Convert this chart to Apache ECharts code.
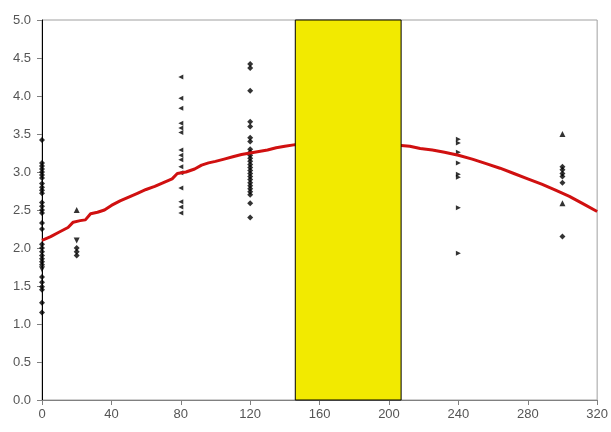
<!DOCTYPE html>
<html><head><meta charset="utf-8">
<script src="https://cdn.jsdelivr.net/npm/echarts@6/dist/echarts.min.js"></script>
<style>html,body{margin:0;padding:0;background:#fff}#c{width:611px;height:432px}</style>
</head><body><div id="c"></div>
<script>
// Observed values (x = dose/position, y = measurement)
const xTicks = [0, 40, 80, 120, 160, 200, 240, 280, 320];
const yTicks = [0, 0.5, 1, 1.5, 2, 2.5, 3, 3.5, 4, 4.5, 5];

const diamondX0 = [3.42, 3.12, 3.08, 3.04, 3.0, 2.96, 2.92, 2.85, 2.8, 2.76, 2.72, 2.6, 2.55, 2.5, 2.46, 2.33, 2.25, 2.05, 2.0, 1.95, 1.9, 1.86, 1.82, 1.78, 1.62, 1.55, 1.49, 1.45, 1.28, 1.15];
const downTriX0 = [1.72];
const upTriX20 = [2.5];
const downTriX20 = [2.1];
const diamondX20 = [2.0, 1.95, 1.9];
const leftTriX80 = [4.25, 3.97, 3.84, 3.64, 3.58, 3.52, 3.29, 3.22, 3.16, 3.07, 2.99, 2.79, 2.61, 2.54, 2.46];
const diamondX120 = [4.42, 4.37, 4.07, 3.66, 3.6, 3.45, 3.4, 3.3, 3.26, 3.22, 3.18, 3.14, 3.1, 3.06, 3.02, 2.98, 2.94, 2.9, 2.86, 2.82, 2.78, 2.74, 2.7, 2.59, 2.4];
const rightTriX240 = [3.43, 3.38, 3.26, 3.12, 2.97, 2.93, 2.53, 1.93];
const upTriX300 = [3.5, 2.59];
const diamondX300 = [3.07, 3.03, 2.98, 2.94, 2.86, 2.15];

const curveX = [0, 5, 10, 15, 18, 22, 25, 28, 32, 36, 40, 45, 50, 55, 60, 65, 70, 75, 78, 83, 88, 92, 96, 100, 105, 110, 115, 120, 125, 130, 135, 140, 146, 175, 207, 212, 218, 225, 232, 240, 248, 256, 264, 272, 280, 288, 296, 304, 312, 320];
const curveY = [2.10, 2.15, 2.21, 2.27, 2.34, 2.36, 2.37, 2.45, 2.47, 2.50, 2.56, 2.62, 2.67, 2.72, 2.77, 2.81, 2.86, 2.91, 2.98, 3.00, 3.04, 3.09, 3.12, 3.14, 3.17, 3.20, 3.23, 3.25, 3.27, 3.29, 3.32, 3.34, 3.36, 3.38, 3.35, 3.34, 3.31, 3.29, 3.26, 3.22, 3.17, 3.11, 3.05, 2.98, 2.91, 2.84, 2.76, 2.68, 2.58, 2.48];

const bandRange = [146, 207];
const bandY = [0, 5];

function pts(x, ys) { return ys.map(v => [x, v]); }

const chart = echarts.init(document.getElementById('c'), null, {renderer: 'canvas'});
const dot = (name, data, symbol, size, rot) => ({
  name, type: 'scatter', data, symbol, symbolSize: size, symbolRotate: rot || 0,
  itemStyle: {color: '#000'}, z: 3, silent: true
});
chart.setOption({
  animation: false,
  grid: {left: 42, right: 10, top: 20, bottom: 32, show: true, borderColor: '#a0a0a0', borderWidth: 1},
  xAxis: {
    type: 'value', min: 0, max: 320, interval: 40,
    axisLine: {show: true, onZero: false, lineStyle: {color: '#808080', width: 1}},
    axisTick: {show: true, length: 5, lineStyle: {color: '#808080'}},
    axisLabel: {color: '#555', fontFamily: 'Liberation Sans, Arial', fontSize: 13, margin: 8},
    splitLine: {show: false}
  },
  yAxis: {
    type: 'value', min: 0, max: 5, interval: 0.5,
    axisLine: {show: true, lineStyle: {color: '#000', width: 1}},
    axisTick: {show: true, length: 5, lineStyle: {color: '#808080'}},
    axisLabel: {color: '#555', fontFamily: 'Liberation Sans, Arial', fontSize: 13, margin: 11,
      formatter: v => v.toFixed(1)},
    splitLine: {show: false}
  },
  series: [
    {type: 'line', data: curveX.map((x, i) => [x, curveY[i]]), showSymbol: false, symbol: 'none',
      lineStyle: {color: '#d01010', width: 3}, z: 4, silent: true},
    dot('a', pts(0, diamondX0), 'diamond', 6),
    dot('b', pts(0, downTriX0), 'triangle', 6, 180),
    dot('c', pts(20, upTriX20), 'triangle', 6),
    dot('d', pts(20, downTriX20), 'triangle', 6, 180),
    dot('e', pts(20, diamondX20), 'diamond', 6),
    dot('f', pts(80, leftTriX80), 'triangle', 5, 90),
    dot('g', pts(120, diamondX120), 'diamond', 6),
    dot('h', pts(240, rightTriX240), 'triangle', 5, -90),
    dot('i', pts(300, upTriX300), 'triangle', 6),
    dot('j', pts(300, diamondX300), 'diamond', 6),
    {type: 'custom', z: 10, silent: true,
      data: [[bandRange[0], bandY[0], bandRange[1], bandY[1]]],
      encode: {x: [0, 2], y: [1, 3]},
      renderItem: (params, api) => {
        const p0 = api.coord([api.value(0), api.value(1)]);
        const p1 = api.coord([api.value(2), api.value(3)]);
        return {type: 'rect', shape: {x: p0[0], y: p1[1], width: p1[0] - p0[0], height: p0[1] - p1[1]},
          style: {fill: '#f2ea00', stroke: '#000', lineWidth: 1}};
      }}
  ]
});
</script></body></html>
